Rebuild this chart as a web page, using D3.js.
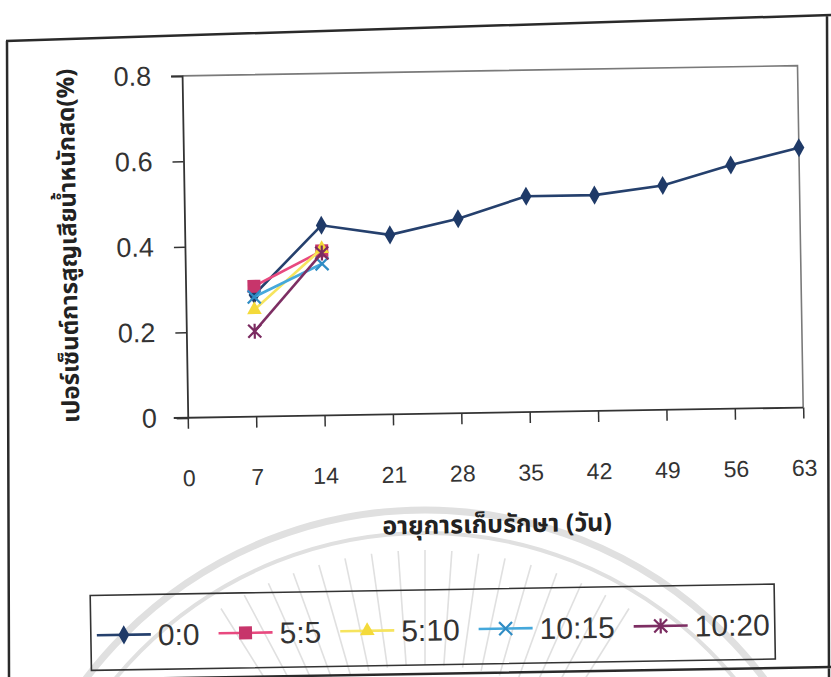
<!DOCTYPE html>
<html>
<head>
<meta charset="utf-8">
<script src="https://cdn.jsdelivr.net/npm/d3@7"></script>
<style>
  html, body { margin: 0; padding: 0; background: #fff; }
  svg { display: block; }
</style>
</head>
<body>
<svg id="chart" width="831" height="677"></svg>
<script>
// Storage days and weight-loss percentages per coating ratio
const days = [0, 7, 14, 21, 28, 35, 42, 49, 56, 63];
const yTicks = [0, 0.2, 0.4, 0.6, 0.8];
const yTickLabels = ["0", "0.2", "0.4", "0.6", "0.8"];

const seriesNames = ["0:0", "5:5", "5:10", "10:15", "10:20"];
const days00 = [7, 14, 21, 28, 35, 42, 49, 56, 63];
const loss00 = [0.285, 0.445, 0.42, 0.455, 0.505, 0.505, 0.525, 0.57, 0.608];
const daysShort = [7, 14];
const loss55 = [0.305, 0.385];
const loss510 = [0.25, 0.39];
const loss1015 = [0.28, 0.355];
const loss1020 = [0.20, 0.38];

const xTitle = "อายุการเก็บรักษา (วัน)";
const yTitle = "เปอร์เซ็นต์การสูญเสียน้ำหนักสด(%)";

const series = [
  { name: seriesNames[0], x: days00, y: loss00, line: "#25406d", mark: "#1f3a68", shape: "diamond" },
  { name: seriesNames[1], x: daysShort, y: loss55, line: "#e8497f", mark: "#c7356b", shape: "square" },
  { name: seriesNames[2], x: daysShort, y: loss510, line: "#f6e45e", mark: "#f4da3a", shape: "triangle" },
  { name: seriesNames[3], x: daysShort, y: loss1015, line: "#45a8db", mark: "#2f8cc4", shape: "x" },
  { name: seriesNames[4], x: daysShort, y: loss1020, line: "#7d2e63", mark: "#7a2b60", shape: "star" }
];

const numFont = "'Liberation Sans', Arial, sans-serif";
const thaiFont = "'Noto Sans Thai', 'Noto Sans Thai UI', Loma, Garuda, 'Tlwg Typo', 'Noto Sans', sans-serif";

const svg = d3.select("#chart");
svg.append("rect").attr("width", 831).attr("height", 677).attr("fill", "#fff");

// faint watermark seal behind the lower part
const wm = svg.append("g").attr("fill", "none").attr("stroke", "#e0e0e0");
const wmC = [425, 935];
wm.append("circle").attr("cx", wmC[0]).attr("cy", wmC[1]).attr("r", 425).attr("stroke-width", 7);
wm.append("circle").attr("cx", wmC[0]).attr("cy", wmC[1]).attr("r", 402).attr("stroke-width", 4);
d3.range(-122, -57, 4).forEach(a => {
  const r = a * Math.PI / 180;
  wm.append("line")
    .attr("x1", wmC[0] + 270 * Math.cos(r)).attr("y1", wmC[1] + 270 * Math.sin(r))
    .attr("x2", wmC[0] + 385 * Math.cos(r)).attr("y2", wmC[1] + 385 * Math.sin(r))
    .attr("stroke-width", 1.6);
});

// outer chart frame (scan is slightly skewed)
svg.append("path")
  .attr("d", "M6,41 L831,15 M7,41 L9,677 M827,16 L829,677 M0,681 L831,667")
  .attr("fill", "none").attr("stroke", "#2a2a2a").attr("stroke-width", 2.5);

const g = svg.append("g").attr("transform", "rotate(-0.95 415 340)");

const plot = { left: 186.5, right: 802, top: 72, bottom: 414 };
const x = d3.scaleLinear().domain([0, 63]).range([plot.left, plot.right]);
const y = d3.scaleLinear().domain([0, 0.8]).range([plot.bottom, plot.top]);

// plot-area border (top and right)
g.append("path")
  .attr("d", `M${plot.left},${plot.top} H${plot.right} V${plot.bottom}`)
  .attr("fill", "none").attr("stroke", "#7a7a7a").attr("stroke-width", 1.6);

// y axis
const yAxis = g.append("g").attr("transform", `translate(${plot.left},0)`)
  .call(d3.axisLeft(y).tickValues(yTicks).tickSize(11).tickPadding(20)
    .tickFormat((d, i) => yTickLabels[i]));
yAxis.select(".domain").attr("stroke", "#333").attr("stroke-width", 1.8);
yAxis.selectAll(".tick line").attr("stroke", "#333").attr("stroke-width", 1.5);
yAxis.selectAll("text").attr("font-family", numFont).attr("font-size", 27).attr("fill", "#333");

// x axis
const xAxis = g.append("g").attr("transform", `translate(0,${plot.bottom})`)
  .call(d3.axisBottom(x).tickValues(days).tickSize(11).tickPadding(41).tickSizeOuter(0));
xAxis.select(".domain").attr("stroke", "#333").attr("stroke-width", 1.8)
  .attr("d", `M${plot.left - 14},0 H${plot.right}`);
xAxis.selectAll(".tick line").attr("stroke", "#333").attr("stroke-width", 1.5);
xAxis.selectAll("text").attr("font-family", numFont).attr("font-size", 23).attr("fill", "#333");

// axis titles
g.append("text").attr("x", 494).attr("y", 534)
  .attr("text-anchor", "middle").attr("font-family", thaiFont)
  .attr("font-weight", "bold").attr("font-size", 25).attr("fill", "#222").text(xTitle);
g.append("text").attr("transform", "translate(78,240) rotate(-90)")
  .attr("text-anchor", "middle").attr("font-family", thaiFont)
  .attr("font-weight", "bold").attr("font-size", 24).attr("fill", "#222").text(yTitle);

// marker drawing
function drawMarker(sel, shape, color, cx, cy, s) {
  if (shape === "diamond") {
    sel.append("path").attr("d", d3.symbol(d3.symbolDiamond, s * s * 0.62)())
      .attr("transform", `translate(${cx},${cy})`).attr("fill", color);
  } else if (shape === "square") {
    sel.append("rect").attr("x", cx - s / 2).attr("y", cy - s / 2)
      .attr("width", s).attr("height", s).attr("fill", color);
  } else if (shape === "triangle") {
    sel.append("path").attr("d", d3.symbol(d3.symbolTriangle, s * s * 0.55)())
      .attr("transform", `translate(${cx},${cy})`).attr("fill", color);
  } else {
    const h = s / 2;
    const p = `M${cx - h},${cy - h} L${cx + h},${cy + h} M${cx - h},${cy + h} L${cx + h},${cy - h}` +
      (shape === "star" ? ` M${cx},${cy - h - 1} V${cy + h + 1}` : "");
    sel.append("path").attr("d", p).attr("stroke", color).attr("stroke-width", 2.2).attr("fill", "none");
  }
}

const line = d3.line().x(d => x(d[0])).y(d => y(d[1]));
series.forEach(s => {
  const pts = s.x.map((d, i) => [d, s.y[i]]);
  const sg = g.append("g");
  sg.append("path").datum(pts).attr("d", line)
    .attr("fill", "none").attr("stroke", s.line).attr("stroke-width", 2.6);
  pts.forEach(p => drawMarker(sg, s.shape, s.mark, x(p[0]), y(p[1]), 13));
});

// legend
const leg = g.append("g");
leg.append("rect").attr("x", 86).attr("y", 590).attr("width", 684).attr("height", 75)
  .attr("fill", "none").attr("stroke", "#333").attr("stroke-width", 1.6);
let lx = 92;
const ly = 630;
series.forEach(s => {
  leg.append("line").attr("x1", lx).attr("x2", lx + 54).attr("y1", ly).attr("y2", ly)
    .attr("stroke", s.line).attr("stroke-width", 2.6);
  drawMarker(leg, s.shape, s.mark, lx + 27, ly, 13);
  const t = leg.append("text").attr("x", lx + 61).attr("y", ly + 11)
    .attr("font-family", numFont).attr("font-size", 30).attr("fill", "#333").text(s.name);
  lx += 61 + t.node().getComputedTextLength() + 19;
});
</script>
</body>
</html>
